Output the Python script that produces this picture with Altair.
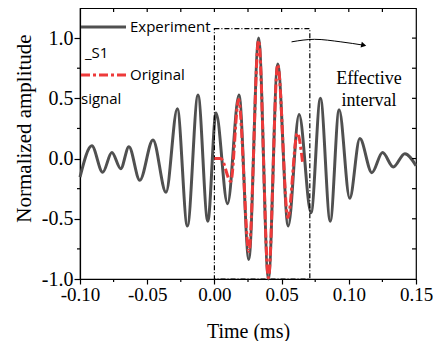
import altair as alt
import pandas as pd

# ---- data ----
# Experiment S1 (grey): extrema of the waveform, time in ms
exp_t = [-0.1000, -0.0912, -0.0831, -0.0763, -0.0697, -0.0636, -0.0555, -0.0457,
         -0.0360, -0.0276, -0.0201, -0.0122, -0.0049, 0.0012, 0.0098, 0.0183,
         0.0256, 0.0329, 0.0402, 0.0471, 0.0549, 0.0630, 0.0719, 0.0789,
         0.0862, 0.0928, 0.1007, 0.1082, 0.1172, 0.1251, 0.1331, 0.1417, 0.1500]
exp_v = [-0.155, 0.106, -0.114, 0.05, -0.084, 0.098, -0.18, 0.155,
         -0.28, 0.414, -0.56, 0.528, -0.52, 0.378, -0.375, 0.528,
         -0.838, 1.0, -1.0, 0.786, -0.56, 0.365, -0.45, 0.5,
         -0.52, 0.405, -0.33, 0.166, -0.117, 0.05, -0.07, 0.04, -0.06]

# Original signal (red)
orig_t = [0.0, 0.0048, 0.0122, 0.0180, 0.0257, 0.0329, 0.0402, 0.0471, 0.0547, 0.0617, 0.0657]
orig_v = [0.0, 0.0, -0.19, 0.49, -0.77, 0.98, -0.99, 0.78, -0.49, 0.21, -0.04]

# Effective interval box and arrow
box_t = [0.0, 0.071]
box_v = [-1.0, 1.078]
arrow_t = [0.0574, 0.0745, 0.0941, 0.1111]
arrow_v = [0.969, 0.99, 0.969, 0.941]

# ticks
x_major = [-0.10, -0.05, 0.00, 0.05, 0.10, 0.15]
x_minor = [-0.075, -0.025, 0.025, 0.075, 0.125]
y_major = [-1.0, -0.5, 0.0, 0.5, 1.0]
y_minor = [-0.75, -0.25, 0.25, 0.75]

W, H = 336, 271
SERIF = "Liberation Serif"
SANS = "Open Sans"

xs = alt.Scale(domain=[-0.10, 0.15], nice=False, zero=False)
ys = alt.Scale(domain=[-1.0, 1.25], nice=False, zero=False)

exp_df = pd.DataFrame({"t": exp_t, "v": exp_v})
orig_df = pd.DataFrame({"t": orig_t, "v": orig_v})
box_df = pd.DataFrame({"t": [box_t[0]], "t2": [box_t[1]], "v": [box_v[0]], "v2": [box_v[1]]})
arrow_df = pd.DataFrame({"t": arrow_t, "v": arrow_v})
head_df = arrow_df.tail(1)
one = pd.DataFrame({"a": [0]})

x_axis = alt.Axis(
    values=x_major, labelExpr="(datum.value < 0 ? '-' : '') + format(abs(datum.value), '.2f')",
    title="Time (ms)", labelFont=SERIF, labelFontSize=19, titleFont=SERIF, titleFontSize=20,
    titleFontWeight="normal", tickSize=5, labelPadding=1, grid=False,
    domainColor="black", tickColor="black", labelColor="black", titleColor="black",
    domainWidth=1.2, tickWidth=1.2, titleY=58, titleBaseline="alphabetic", labelFlush=False)
y_axis = alt.Axis(
    values=y_major, labelExpr="(datum.value < 0 ? '-' : '') + format(abs(datum.value), '.1f')",
    title="Normalized amplitude", labelFont=SERIF, labelFontSize=20, titleFont=SERIF, titleFontSize=21,
    titleFontWeight="normal", tickSize=6, labelPadding=1, grid=False,
    domainColor="black", tickColor="black", labelColor="black", titleColor="black",
    domainWidth=1.2, tickWidth=1.2, titleX=-50, titleY=120, titleAlign="center",
    titleBaseline="alphabetic", labelFlush=False)


def X(f="t"):
    return alt.X(f"{f}:Q", scale=xs, axis=x_axis)


def Y(f="v"):
    return alt.Y(f"{f}:Q", scale=ys, axis=y_axis)


exp_line = alt.Chart(exp_df).mark_line(color="#505050", strokeWidth=3, interpolate="monotone").encode(
    x=X(), y=Y())

orig_line = alt.Chart(orig_df).mark_line(color="#ee3a3a", strokeWidth=3, strokeDash=[9, 3, 3, 3],
                                         interpolate="monotone").encode(x=X(), y=Y())

box = alt.Chart(box_df).mark_rect(fillOpacity=0, stroke="black", strokeWidth=1.2,
                                  strokeDash=[5, 2, 1, 2]).encode(
    x=X(), x2="t2:Q", y=Y(), y2="v2:Q")

arrow = alt.Chart(arrow_df).mark_line(color="black", strokeWidth=1, interpolate="monotone").encode(
    x=X(), y=Y())
head = alt.Chart(head_df).mark_point(shape="triangle-right", filled=True, size=35, angle=12,
                                     color="black", opacity=1).encode(x=X(), y=Y())

eff_text = alt.Chart(one).mark_text(font=SERIF, fontSize=18, align="center", baseline="middle",
                                    lineHeight=22, color="black").encode(
    x=alt.value(289), y=alt.value(71), text=alt.value(["Effective", "interval"]))

# tick decorations
xmin_df = pd.DataFrame({"t": x_minor})
xtop_df = pd.DataFrame({"t": x_major[1:-1] + x_minor})
ymin_df = pd.DataFrame({"v": y_minor})
yright_df = pd.DataFrame({"v": y_minor + y_major[1:]})
tk = dict(color="black", strokeWidth=1.2)
bottom_minor = alt.Chart(xmin_df).mark_rule(**tk).encode(
    x=X(), y=alt.value(H), y2=alt.value(H + 3))
top_ticks = alt.Chart(xtop_df).mark_rule(**tk).encode(
    x=X(), y=alt.value(0), y2=alt.value(4))
left_minor = alt.Chart(ymin_df).mark_rule(**tk).encode(
    y=Y(), x=alt.value(0), x2=alt.value(-3))
right_ticks = alt.Chart(yright_df).mark_rule(**tk).encode(
    y=Y(), x=alt.value(W), x2=alt.value(W - 4))

# legend (drawn inside the plot)
leg_exp = alt.Chart(one).mark_rule(color="#505050", strokeWidth=3).encode(
    x=alt.value(1), x2=alt.value(46), y=alt.value(19))
leg_orig = alt.Chart(one).mark_rule(color="#ee3a3a", strokeWidth=3, strokeDash=[9, 3, 3, 3]).encode(
    x=alt.value(1), x2=alt.value(46), y=alt.value(67))
lt = dict(font=SANS, fontSize=15, align="left", baseline="middle", color="black")
leg_t1 = alt.Chart(one).mark_text(**lt).encode(x=alt.value(50), y=alt.value(19), text=alt.value("Experiment"))
leg_t2 = alt.Chart(one).mark_text(**lt).encode(x=alt.value(5), y=alt.value(45), text=alt.value("_S1"))
leg_t3 = alt.Chart(one).mark_text(**lt).encode(x=alt.value(50), y=alt.value(67), text=alt.value("Original"))
leg_t4 = alt.Chart(one).mark_text(**lt).encode(x=alt.value(1), y=alt.value(91), text=alt.value("signal"))

chart = alt.layer(
    exp_line, box, orig_line, arrow, head, eff_text,
    bottom_minor, top_ticks, left_minor, right_ticks,
    leg_exp, leg_orig, leg_t1, leg_t2, leg_t3, leg_t4,
).properties(
    width=W, height=H,
    autosize=alt.AutoSizeParams(type="none"),
    padding={"left": 72, "top": 0, "right": 17, "bottom": 62},
    background="white",
).configure_view(stroke="black", strokeWidth=1.2)

chart.save("out.html", embed_options={"renderer": "svg", "actions": False})
